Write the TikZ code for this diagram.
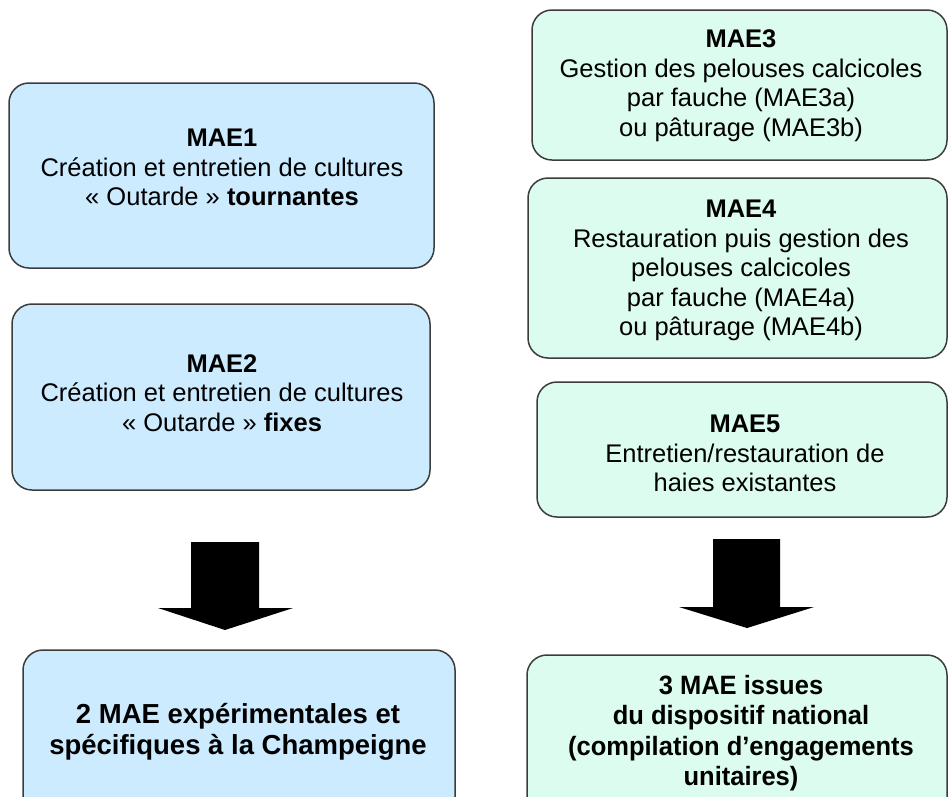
\documentclass[tikz,border=0pt]{standalone}
\usepackage{fontspec}
\setmainfont{Liberation Sans}
\definecolor{bluefill}{HTML}{CCEBFF}
\definecolor{mintfill}{HTML}{DCFCEF}
\definecolor{edgecol}{HTML}{3C3C3C}
\begin{document}
\begin{tikzpicture}[x=1pt,y=-1pt,
  boxL/.style={draw=edgecol, line width=1.5pt, rounded corners=20pt, fill=bluefill, inner sep=0pt},
  boxR/.style={boxL, fill=mintfill},
  txt/.style={align=center, inner sep=0pt, anchor=north, font=\fontsize{25.5}{29.5}\selectfont},
  bigtxt/.style={align=center, inner sep=0pt, anchor=north, transform shape},
  blockarrow/.style={fill=black, draw=none}]
\useasboundingbox (0,0) rectangle (949,796);
\clip (0,0) rectangle (949,796);

% boxes
\node[boxL, minimum width=425pt, minimum height=185pt] (b1) at (221.5,175.5) {};
\node[boxL, minimum width=418pt, minimum height=186pt] (b2) at (221,397) {};
\node[boxR, minimum width=415pt, minimum height=150pt] (b3) at (739.5,85) {};
\node[boxR, minimum width=419pt, minimum height=180pt] (b4) at (737.5,268) {};
\node[boxR, minimum width=410pt, minimum height=135pt] (b5) at (742,449.5) {};
\node[boxL, minimum width=432pt, minimum height=170pt] (bL) at (239,735) {};
\node[boxR, minimum width=420pt, minimum height=165pt] (bR) at (737,737.5) {};

% texts
\node[txt] (t1) at (222,129) {\textbf{MAE1}\\Création et entretien de cultures\\« Outarde » \textbf{tournantes}};
\node[txt] (t2) at (222,354) {\textbf{MAE2}\\Création et entretien de cultures\\« Outarde » \textbf{fixes}};
\node[txt] (t3) at (741,29.5) {\textbf{MAE3}\\Gestion des pelouses calcicoles\\par fauche (MAE3a)\\ou pâturage (MAE3b)};
\node[txt] (t4) at (741,200) {\textbf{MAE4}\\Restauration puis gestion des\\pelouses calcicoles\\par fauche (MAE4a)\\ou pâturage (MAE4b)};
\node[txt] (t5) at (745,415) {\textbf{MAE5}\\Entretien/restauration de\\haies existantes};

\node[bigtxt, font=\bfseries\fontsize{27.5}{31}\selectfont] (tL) at (238,703.5) {2 MAE expérimentales et\\spécifiques à la Champeigne};
\begin{scope}[shift={(741,675)}, yscale=1.04]
\node[bigtxt, font=\bfseries\fontsize{25.5}{29.2}\selectfont] (tR) at (0,0) {3 MAE issues\\du dispositif national\\(compilation d’engagements\\unitaires)};
\end{scope}

% block arrows
\fill[blockarrow] (191,542) -- (259,542) -- (259,608) -- (293,608) -- (225,630)
  -- (158,608) -- (191,608) -- cycle;
\fill[blockarrow] (713,539) -- (780,539) -- (780,607) -- (814,607) -- (747,628)
  -- (679,607) -- (713,607) -- cycle;
\end{tikzpicture}
\end{document}
